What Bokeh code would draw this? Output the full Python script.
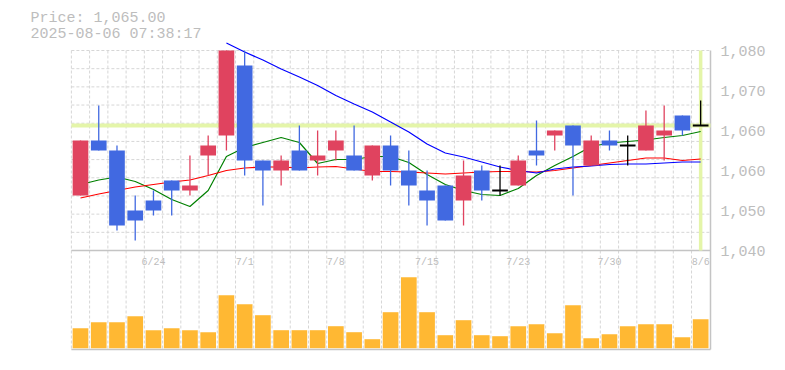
from bokeh.plotting import figure
from bokeh.models import Range1d, FixedTicker
from bokeh.core.properties import value
from bokeh.embed import file_html
from bokeh.resources import INLINE

# ---------------- data ----------------
dates = ["6/18", "6/19", "6/20", "6/23", "6/24", "6/25", "6/26", "6/27", "6/30",
         "7/1", "7/2", "7/3", "7/4", "7/7", "7/8", "7/9", "7/10", "7/11",
         "7/14", "7/15", "7/16", "7/17", "7/18", "7/22", "7/23", "7/24", "7/25",
         "7/28", "7/29", "7/30", "7/31", "8/1", "8/4", "8/5", "8/6"]

open_ = [1051, 1062, 1060, 1048, 1050, 1054, 1052, 1059, 1063, 1077, 1058, 1056,
         1060, 1058, 1060, 1059, 1055, 1061, 1056, 1052, 1053, 1050, 1056, 1052,
         1053, 1060, 1063, 1065, 1057, 1062, 1061, 1060, 1063, 1067, 1065]
high = [1062, 1069, 1061, 1051, 1052, 1054, 1059, 1063, 1080, 1080, 1058, 1059,
        1065, 1064, 1064, 1065, 1061, 1063, 1060, 1056, 1053, 1058, 1057, 1057,
        1059, 1066, 1064, 1065, 1063, 1064, 1063, 1068, 1069, 1067, 1070]
low = [1051, 1060, 1044, 1042, 1047, 1047, 1051, 1055, 1060, 1055, 1049, 1053,
       1056, 1055, 1058, 1056, 1054, 1053, 1049, 1045, 1046, 1045, 1050, 1051,
       1053, 1057, 1060, 1051, 1057, 1060, 1057, 1060, 1058, 1063, 1065]
close = [1062, 1060, 1045, 1046, 1048, 1052, 1053, 1061, 1080, 1058, 1056, 1058,
         1056, 1059, 1062, 1056, 1061, 1056, 1053, 1050, 1046, 1055, 1052, 1052,
         1058, 1059, 1064, 1061, 1062, 1061, 1061, 1065, 1064, 1064, 1065]

volume = [2000, 2600, 2600, 3200, 1800, 2000, 1800, 1600, 5300, 4400, 3300, 1800,
          1800, 1800, 2200, 1600, 900, 3600, 7100, 3600, 1300, 2800, 1300, 1200,
          2200, 2400, 1500, 4300, 1000, 1400, 2200, 2400, 2400, 1100, 2900]

ma_short = [1053.2, 1054.1, 1054.7, 1053.8, 1052.2, 1050.2, 1048.8, 1052.0, 1058.8,
            1060.6, 1061.6, 1062.6, 1061.6, 1057.4, 1058.2, 1058.2, 1058.8, 1058.8,
            1057.6, 1055.2, 1053.2, 1052.0, 1051.2, 1051.0, 1052.4, 1055.0, 1057.0,
            1058.8, 1060.8, 1061.5, 1061.8, 1062.1, 1062.6, 1063.0, 1063.8]
ma_mid = [1050.5, 1051.3, 1052.0, 1052.7, 1053.2, 1053.7, 1054.1, 1055.0, 1056.0,
          1056.5, 1056.7, 1056.7, 1056.5, 1056.7, 1056.8, 1056.3, 1055.8, 1055.8,
          1055.7, 1055.5, 1055.3, 1055.5, 1055.7, 1055.8, 1055.8, 1055.7, 1056.0,
          1056.5, 1057.0, 1057.5, 1058.0, 1058.5, 1058.5, 1058.0, 1058.3]
ma_long_start = 8
ma_long = [1081.5, 1079.7, 1078.1, 1076.3, 1074.7, 1073.0, 1071.0, 1069.3, 1067.7,
           1065.7, 1063.7, 1061.3, 1059.5, 1058.7, 1057.7, 1056.7, 1056.0, 1055.5,
           1056.3, 1056.7, 1056.9, 1057.2, 1057.3, 1057.3, 1057.5, 1057.7, 1057.7]

y_ticks = [1040, 1048, 1056, 1064, 1072, 1080]
y_tick_labels = ["1,040", "1,050", "1,060", "1,060", "1,070", "1,080"]
x_tick_labels = ["6/24", "7/1", "7/8", "7/15", "7/23", "7/30", "8/6"]

title_lines = ["Price: {:,.2f}".format(close[-1]), "2025-08-06 07:38:17"]

# ---------------- layout constants (pixels) ----------------
W, H = 785, 370
FRAME_R = 712
X0PX, DX = 80.0, 18.24          # centre of first candle, spacing
PTOP_PX, PTOP, PBOT, PPU = 50.0, 1080.0, 1040.0, 5.0
VOL_BASE_PX, VPP = 347.7, 100.0
PANEL_R_PX = 710.0
VOL_BOTTOM_PX = 349.0


def px_x(px):
    return (px - X0PX) / DX


def px_y(py):
    return PTOP - (py - PTOP_PX) / PPU


FONT = "Liberation Mono"
TXT = "#bdbdbd"
GRID = "#d6d6d6"
BORDER = "#c4c4c4"
UP, DOWN, DOJI = "#e0435f", "#4169e1", "#000000"
VOLC = "#ffb833"
HL = "#e4f5a9"

N = len(dates)
idx = list(range(N))

p = figure(width=W, height=H, output_backend="svg", toolbar_location=None,
           x_range=Range1d(px_x(0), px_x(FRAME_R)),
           y_range=Range1d(px_y(H), px_y(0)),
           min_border_left=0, min_border_right=W - FRAME_R,
           min_border_top=0, min_border_bottom=0,
           x_axis_location=None, y_axis_location="right")
p.extra_y_ranges = {"vol": Range1d(-(H - VOL_BASE_PX) * VPP, VOL_BASE_PX * VPP)}
p.xgrid.visible = False
p.ygrid.visible = False
p.outline_line_color = None
p.background_fill_color = "white"
p.border_fill_color = "white"

ax = p.yaxis[0]
ax.ticker = FixedTicker(ticks=y_ticks)
ax.major_label_overrides = {t: l for t, l in zip(y_ticks, y_tick_labels)}
ax.axis_line_color = None
ax.major_tick_line_color = None
ax.minor_tick_line_color = None
ax.major_tick_out = 0
ax.major_tick_in = 0
ax.major_label_standoff = 720 - FRAME_R
ax.major_label_text_font = FONT
ax.major_label_text_font_size = "15px"
ax.major_label_text_color = TXT

# grid
left_x = -0.5
right_x = px_x(PANEL_R_PX)
hg = [PTOP - k * (PTOP - PBOT) / 11 for k in range(11)]
p.segment(x0=[left_x] * len(hg), x1=[right_x] * len(hg), y0=hg, y1=hg,
          line_color=GRID, line_width=1, line_dash="3 2")
vg = [i + 0.5 for i in range(-1, N - 1)]
p.segment(x0=vg, x1=vg, y0=[PTOP] * len(vg), y1=[px_y(VOL_BOTTOM_PX)] * len(vg),
          line_color=GRID, line_width=1, line_dash="3 2")

# borders
p.segment(x0=[left_x, left_x], x1=[right_x, right_x],
          y0=[PBOT, px_y(VOL_BOTTOM_PX)], y1=[PBOT, px_y(VOL_BOTTOM_PX)],
          line_color=BORDER, line_width=1.5)
p.segment(x0=[right_x], x1=[right_x], y0=[PTOP], y1=[px_y(VOL_BOTTOM_PX)],
          line_color=BORDER, line_width=1.5)

# current price lines
p.segment(x0=[left_x], x1=[right_x], y0=[close[-1]], y1=[close[-1]],
          line_color=HL, line_width=4)
p.segment(x0=[idx[-1]], x1=[idx[-1]], y0=[PTOP], y1=[PBOT],
          line_color=HL, line_width=3.5)

# moving averages
p.line(idx, ma_short, line_color="green", line_width=1.2)
p.line(idx, ma_mid, line_color="red", line_width=1.2)
p.line(idx[ma_long_start:], ma_long, line_color="blue", line_width=1.2)

# candles
cols = [UP if c > o else (DOWN if c < o else DOJI) for o, c in zip(open_, close)]
p.segment(x0=idx, x1=idx, y0=high, y1=low, line_color=cols, line_width=1.3)
body = [i for i in idx if open_[i] != close[i]]
p.vbar(x=body, width=0.86,
       top=[max(open_[i], close[i]) for i in body],
       bottom=[min(open_[i], close[i]) for i in body],
       fill_color=[cols[i] for i in body], line_color=None)
doji = [i for i in idx if open_[i] == close[i]]
p.segment(x0=[i - 0.43 for i in doji], x1=[i + 0.43 for i in doji],
          y0=[close[i] for i in doji], y1=[close[i] for i in doji],
          line_color=DOJI, line_width=2)

# volume
p.vbar(x=idx, top=volume, bottom=0, width=0.86, fill_color=VOLC, line_color=None,
       y_range_name="vol")

# x labels
p.text(x=[dates.index(d) for d in x_tick_labels], y=[px_y(262)] * len(x_tick_labels),
       text=x_tick_labels, text_font=value(FONT), text_font_size="10px",
       text_color=TXT, text_align="center", text_baseline="middle")

# title
p.text(x=[px_x(30)] * 2, y=[px_y(18), px_y(33.5)], text=title_lines,
       text_font=value(FONT), text_font_size="15px", text_color=TXT,
       text_align="left", text_baseline="middle")

open("out.html", "w").write(file_html(p, INLINE))
